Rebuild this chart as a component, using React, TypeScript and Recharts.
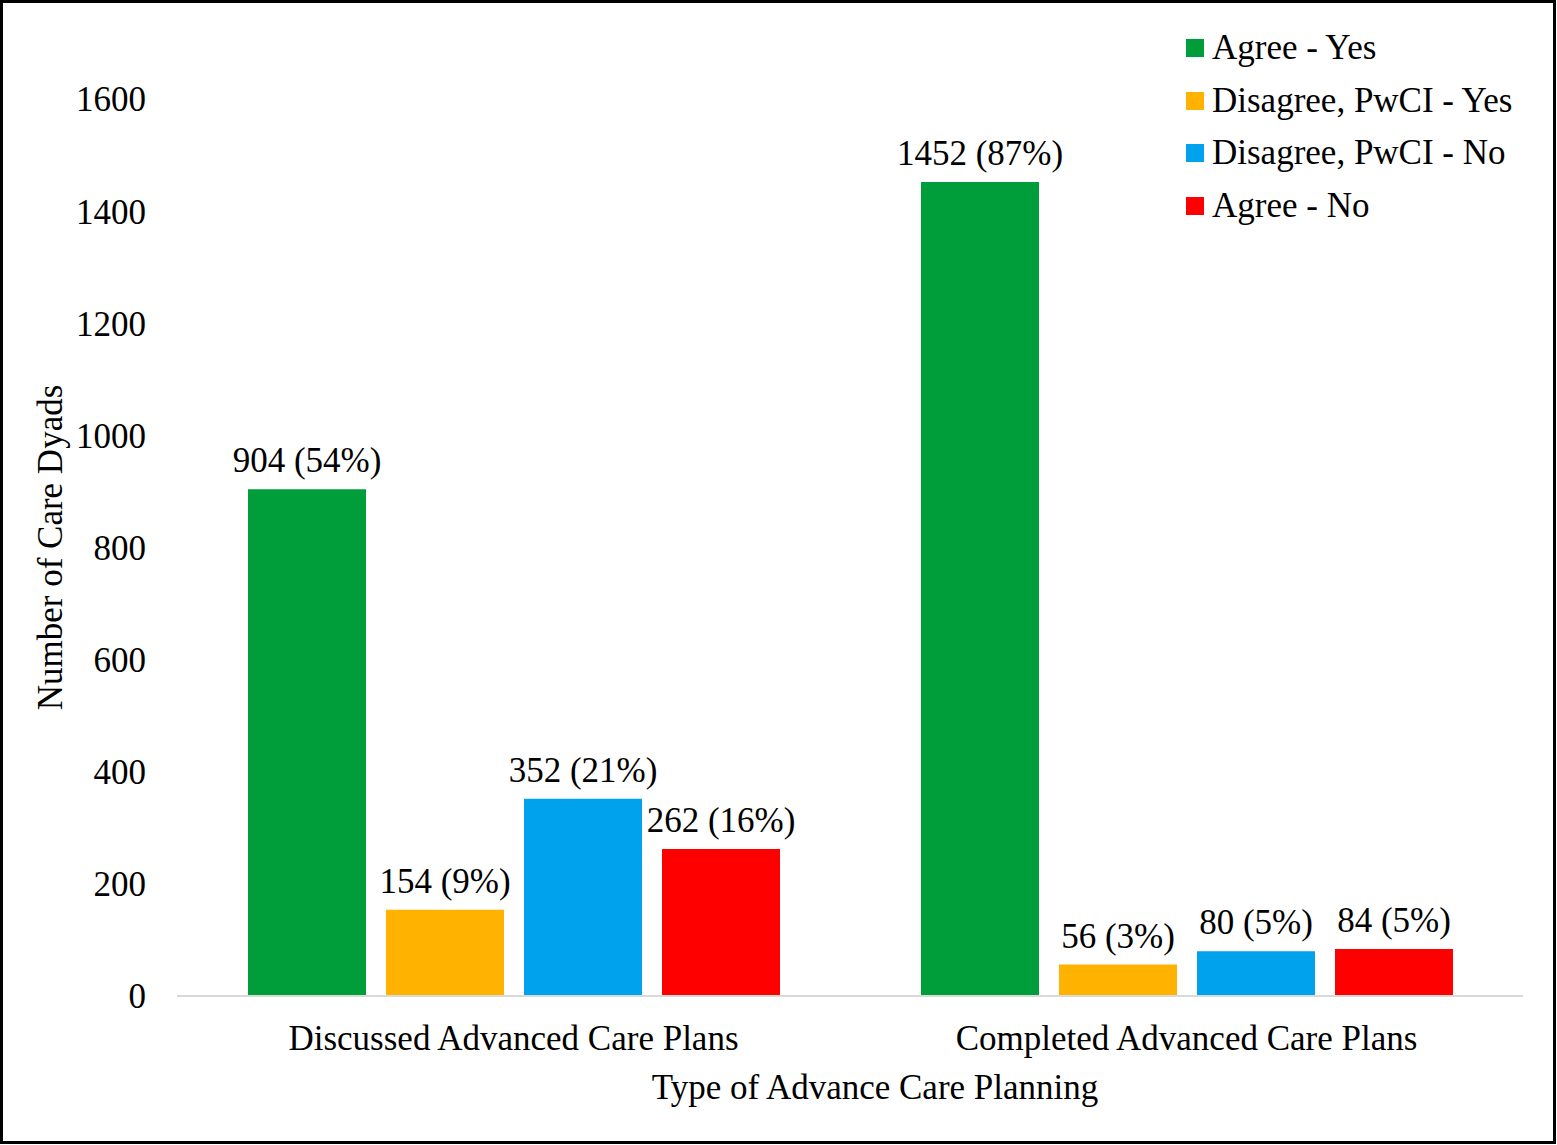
import { BarChart, Bar, XAxis, YAxis, Legend, LabelList } from 'recharts'

const categories = ['Discussed Advanced Care Plans', 'Completed Advanced Care Plans']
const agreeYes = [904, 1452]
const disagreeYes = [154, 56]
const disagreeNo = [352, 80]
const agreeNo = [262, 84]
const agreeYesPct = [54, 87]
const disagreeYesPct = [9, 3]
const disagreeNoPct = [21, 5]
const agreeNoPct = [16, 5]
const yTicks = [0, 200, 400, 600, 800, 1000, 1200, 1400, 1600]

const series = [
  { key: 'agreeYes', name: 'Agree - Yes', color: '#009E3A', values: agreeYes, pct: agreeYesPct },
  { key: 'disagreeYes', name: 'Disagree, PwCI - Yes', color: '#FFB300', values: disagreeYes, pct: disagreeYesPct },
  { key: 'disagreeNo', name: 'Disagree, PwCI - No', color: '#00A2EE', values: disagreeNo, pct: disagreeNoPct },
  { key: 'agreeNo', name: 'Agree - No', color: '#FF0000', values: agreeNo, pct: agreeNoPct }
]

const data = categories.map((name, i) => {
  const row: Record<string, string | number> = { name }
  series.forEach(s => {
    row[s.key] = s.values[i]
  })
  return row
})

const font = '"Liberation Serif", "Times New Roman", serif'
const textStyle = { fontFamily: font, fontSize: 35, fill: '#000' }

// legend drawn in series order (recharts sorts payload by name otherwise)
function LegendBox() {
  return (
    <div style={{ fontFamily: font, fontSize: 35, color: '#000' }}>
      {series.map(s => (
        <div key={s.key} style={{ display: 'flex', alignItems: 'center', height: 52.6, whiteSpace: 'nowrap' }}>
          <span style={{ display: 'inline-block', width: 18, height: 18, background: s.color, marginRight: 8 }} />
          <span>{s.name}</span>
        </div>
      ))}
    </div>
  )
}

export default function App() {
  return (
    <div style={{ position: 'absolute', left: 0, top: 0, width: 1556, height: 1144, background: '#fff' }}>
      <BarChart
        width={1556}
        height={1144}
        data={data}
        margin={{ top: 99, right: 33, bottom: 0, left: 0 }}
        barSize={118}
        barGap={20}
      >
        <XAxis
          dataKey="name"
          height={148}
          tickLine={false}
          tickSize={6}
          tickMargin={23}
          axisLine={{ stroke: '#d9d9d9', strokeWidth: 2 }}
          tick={textStyle}
          label={{ value: 'Type of Advance Care Planning', position: 'insideBottom', offset: 45, dx: 25, style: { ...textStyle } }}
        />
        <YAxis
          width={177}
          domain={[0, 1600]}
          ticks={yTicks}
          axisLine={false}
          tickLine={false}
          tickSize={6}
          tickMargin={25}
          tick={textStyle}
          label={{ value: 'Number of Care Dyads', angle: -90, position: 'insideLeft', offset: 50, style: { ...textStyle, textAnchor: 'middle' } }}
        />
        <Legend
          verticalAlign="middle"
          align="center"
          layout="vertical"
          content={<LegendBox />}
          wrapperStyle={{ position: 'absolute', top: 22, left: 1186, width: 360, height: 215 }}
        />
        {series.map(s => (
          <Bar key={s.key} dataKey={s.key} name={s.name} fill={s.color} isAnimationActive={false}>
            <LabelList
              dataKey={s.key}
              position="top"
              content={(p: any) => {
                const idx = p.index
                const txt = `${s.values[idx]} (${s.pct[idx]}%)`
                return (
                  <text x={p.x + p.width / 2} y={p.y - 17} textAnchor="middle" style={{ fontFamily: font, fontSize: 35, fill: '#000' }}>
                    {txt}
                  </text>
                )
              }}
            />
          </Bar>
        ))}
      </BarChart>
      <div style={{ position: 'absolute', inset: 0, border: '3px solid #000', boxSizing: 'border-box', pointerEvents: 'none' }} />
    </div>
  )
}
